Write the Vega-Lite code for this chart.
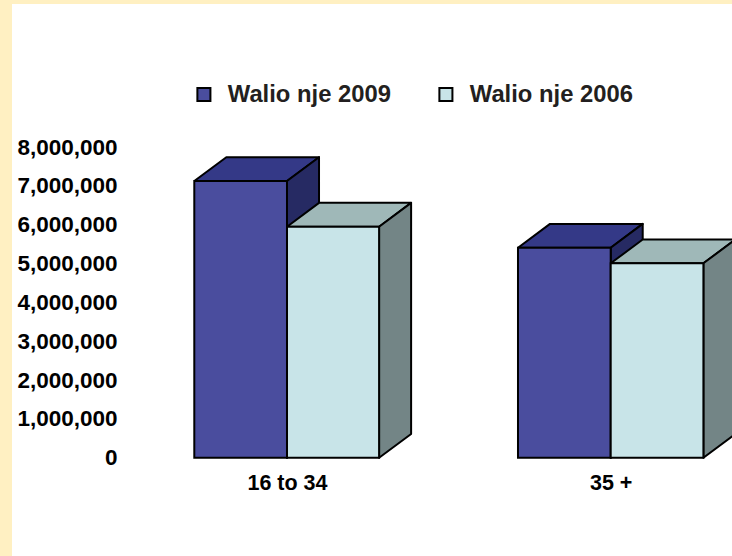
{
"$schema":"https://vega.github.io/schema/vega-lite/v6.json",
"width":720,"height":552,
"autosize":{"type":"none"},
"padding":{"left":12,"top":4,"right":0,"bottom":0},
"background":"#FFF0C2",
"view":{"fill":"#ffffff","stroke":null},
"config":{"font":"Liberation Sans"},
"datasets":{
"bars":[
{"age":"16 to 34","series":"Walio nje 2009","start":0.7136,"end":1.0,"value":7125000},
{"age":"16 to 34","series":"Walio nje 2006","start":1.0,"end":1.2845,"value":5949000},
{"age":"35 +","series":"Walio nje 2009","start":1.7136,"end":2.0,"value":5408000},
{"age":"35 +","series":"Walio nje 2006","start":2.0,"end":2.2864,"value":5006000}
],
"faces":[
{"face":"a1","shade":"top 2009","k":1,"px":0.7136,"py":7125000},
{"face":"a1","shade":"top 2009","k":2,"px":0.8125,"py":7738000},
{"face":"a1","shade":"top 2009","k":3,"px":1.0989,"py":7738000},
{"face":"a1","shade":"top 2009","k":4,"px":1.0,"py":7125000},
{"face":"a1","shade":"top 2009","k":5,"px":0.7136,"py":7125000},
{"face":"a2","shade":"side 2009","k":1,"px":1.0,"py":7125000},
{"face":"a2","shade":"side 2009","k":2,"px":1.0989,"py":7738000},
{"face":"a2","shade":"side 2009","k":3,"px":1.0989,"py":613000},
{"face":"a2","shade":"side 2009","k":4,"px":1.0,"py":0},
{"face":"a2","shade":"side 2009","k":5,"px":1.0,"py":7125000},
{"face":"b1","shade":"top 2006","k":1,"px":1.0,"py":5949000},
{"face":"b1","shade":"top 2006","k":2,"px":1.0989,"py":6562000},
{"face":"b1","shade":"top 2006","k":3,"px":1.3834,"py":6562000},
{"face":"b1","shade":"top 2006","k":4,"px":1.2845,"py":5949000},
{"face":"b1","shade":"top 2006","k":5,"px":1.0,"py":5949000},
{"face":"b2","shade":"side 2006","k":1,"px":1.2845,"py":5949000},
{"face":"b2","shade":"side 2006","k":2,"px":1.3834,"py":6562000},
{"face":"b2","shade":"side 2006","k":3,"px":1.3834,"py":613000},
{"face":"b2","shade":"side 2006","k":4,"px":1.2845,"py":0},
{"face":"b2","shade":"side 2006","k":5,"px":1.2845,"py":5949000},
{"face":"c1","shade":"top 2009","k":1,"px":1.7136,"py":5408000},
{"face":"c1","shade":"top 2009","k":2,"px":1.8125,"py":6021000},
{"face":"c1","shade":"top 2009","k":3,"px":2.0989,"py":6021000},
{"face":"c1","shade":"top 2009","k":4,"px":2.0,"py":5408000},
{"face":"c1","shade":"top 2009","k":5,"px":1.7136,"py":5408000},
{"face":"c2","shade":"side 2009","k":1,"px":2.0,"py":5408000},
{"face":"c2","shade":"side 2009","k":2,"px":2.0989,"py":6021000},
{"face":"c2","shade":"side 2009","k":3,"px":2.0989,"py":613000},
{"face":"c2","shade":"side 2009","k":4,"px":2.0,"py":0},
{"face":"c2","shade":"side 2009","k":5,"px":2.0,"py":5408000},
{"face":"d1","shade":"top 2006","k":1,"px":2.0,"py":5006000},
{"face":"d1","shade":"top 2006","k":2,"px":2.0989,"py":5619000},
{"face":"d1","shade":"top 2006","k":3,"px":2.3853,"py":5619000},
{"face":"d1","shade":"top 2006","k":4,"px":2.2864,"py":5006000},
{"face":"d1","shade":"top 2006","k":5,"px":2.0,"py":5006000},
{"face":"d2","shade":"side 2006","k":1,"px":2.2864,"py":5006000},
{"face":"d2","shade":"side 2006","k":2,"px":2.3853,"py":5619000},
{"face":"d2","shade":"side 2006","k":3,"px":2.3853,"py":613000},
{"face":"d2","shade":"side 2006","k":4,"px":2.2864,"py":0},
{"face":"d2","shade":"side 2006","k":5,"px":2.2864,"py":5006000}
]
},
"layer":[
{
"data":{"name":"faces"},
"mark":{"type":"line","filled":true,"stroke":"#000000","strokeWidth":2,"strokeJoin":"round","interpolate":"linear","clip":true},
"encoding":{
"x":{"field":"px","type":"quantitative","scale":{"domain":[0.15045,2.37473],"nice":false,"zero":false},
"axis":{"title":null,"domain":false,"ticks":false,"grid":false,"values":[1,2],"labelExpr":"datum.value==1?'16 to 34':'35 +'","labelPadding":-73,"labelFont":"Liberation Sans","labelFontWeight":"bold","labelFontSize":21.5,"labelColor":"#000000","labelBaseline":"middle"}},
"y":{"field":"py","type":"quantitative","scale":{"domain":[-2528000,11681000],"nice":false,"zero":false},
"axis":{"title":null,"domain":false,"ticks":false,"grid":false,"values":[0,1000000,2000000,3000000,4000000,5000000,6000000,7000000,8000000],"format":",d","labelPadding":-105,"labelFont":"Liberation Sans","labelFontWeight":"bold","labelFontSize":22.5,"labelColor":"#000000"}},
"order":{"field":"k","type":"ordinal"},
"detail":{"field":"face","type":"nominal"},
"fill":{"field":"shade","type":"nominal","legend":null,"scale":{"domain":["top 2009","side 2009","top 2006","side 2006"],"range":["#343987","#262A63","#9FB8B8","#738586"]}}
}
},
{
"data":{"name":"bars"},
"mark":{"type":"rect","stroke":"#000000","strokeWidth":2},
"encoding":{
"x":{"field":"start","type":"quantitative"},
"x2":{"field":"end"},
"y":{"field":"value","type":"quantitative"},
"y2":{"datum":0},
"fill":{"field":"series","type":"nominal","sort":["Walio nje 2009","Walio nje 2006"],
"scale":{"domain":["Walio nje 2009","Walio nje 2006"],"range":["#4A4D9E","#C8E4E8"]},
"legend":{"title":null,"orient":"none","direction":"horizontal","legendX":180,"legendY":78.5,"symbolType":"square","symbolSize":170,"symbolStrokeColor":"#000000","symbolStrokeWidth":2,"symbolOpacity":1,"labelFont":"Liberation Sans","labelFontWeight":"bold","labelFontSize":23.8,"labelColor":"#231F20","labelOffset":12,"columnPadding":43,"labelLimit":300}}
}
}
],
"resolve":{"scale":{"fill":"independent"}}
}
